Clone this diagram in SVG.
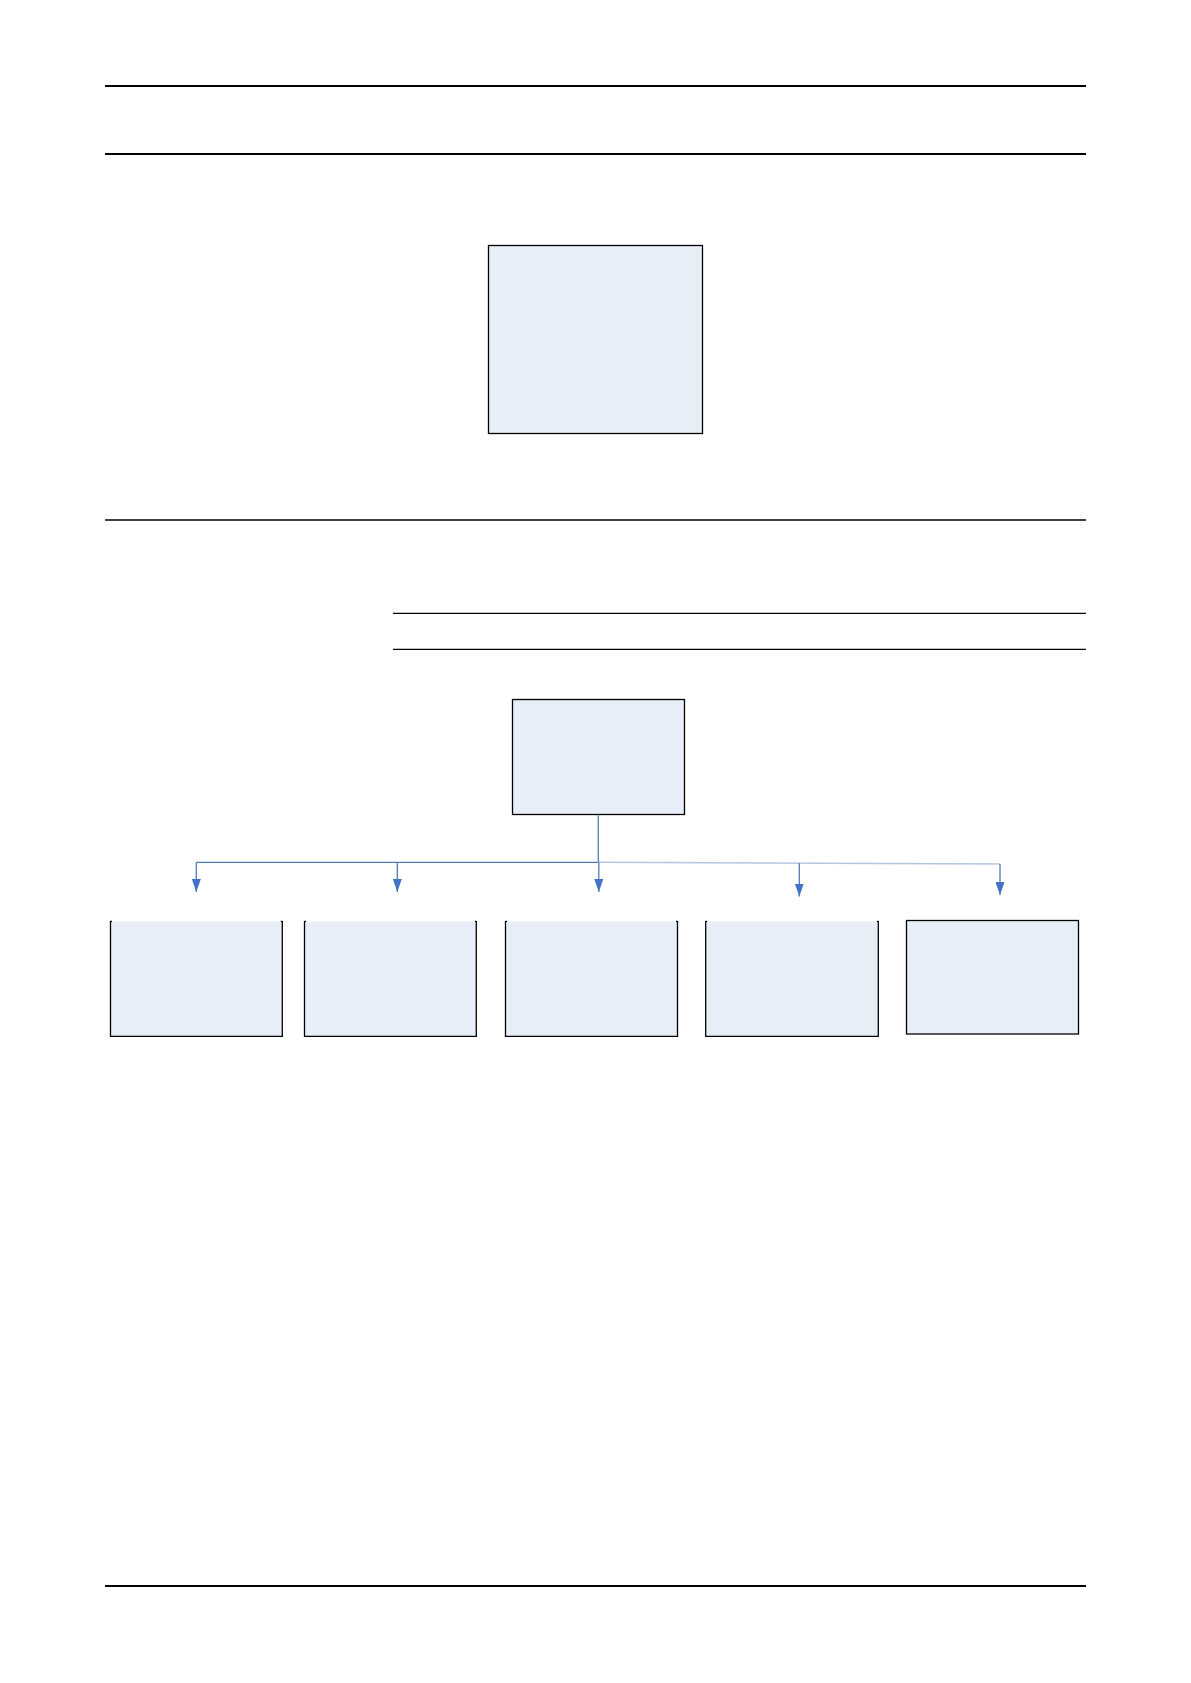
<svg xmlns="http://www.w3.org/2000/svg" width="1191" height="1683" viewBox="0 0 1191 1683">
<style>
.rule{stroke:#000;fill:none}
.box{fill:#E8EEF7;stroke:#000;stroke-width:1.3}
.boxfill{fill:#E8EEF7;stroke:none}
.edge{stroke:#000;stroke-width:1.3;fill:none}
.conn{stroke:#4F7DBA;stroke-width:1.3;fill:none}
.faded{stroke:#B4C6E2;stroke-width:1.5;fill:none}
</style>
<defs>
<marker id="arr" markerWidth="13" markerHeight="9" refX="13" refY="4.5" orient="auto" markerUnits="userSpaceOnUse" viewBox="0 0 13 9">
<path d="M0,0 L13,4.5 L0,9 Z" fill="#4472C4"/>
</marker>
</defs>
<rect width="1191" height="1683" fill="#fff"/>
<g id="rules">
<line class="rule" x1="105" y1="86" x2="1086" y2="86" stroke-width="2.2"/>
<line class="rule" x1="105" y1="154" x2="1086" y2="154" stroke-width="2.2"/>
<line class="rule" x1="105" y1="520" x2="1086" y2="520" stroke-width="1.3"/>
<line class="rule" x1="393" y1="613.3" x2="1086" y2="613.3" stroke-width="1.3"/>
<line class="rule" x1="393" y1="649.3" x2="1086" y2="649.3" stroke-width="1.3"/>
<line class="rule" x1="105" y1="1586" x2="1086" y2="1586" stroke-width="2.2"/>
</g>
<g id="node-top-box"><rect class="box" x="488.5" y="245.5" width="214" height="188"/></g>
<g id="node-root"><rect class="box" x="512.5" y="699.5" width="172" height="115"/></g>
<g id="connectors">
<line class="conn" x1="598.3" y1="814.5" x2="598.3" y2="862.3"/>
<line class="conn" x1="196.3" y1="862.3" x2="598.3" y2="862.3"/>
<line class="faded" x1="598.3" y1="862.3" x2="1000" y2="864"/>
<line class="conn" x1="196.3" y1="862.3" x2="196.3" y2="892" marker-end="url(#arr)"/>
<line class="conn" x1="397.3" y1="862.3" x2="397.3" y2="892" marker-end="url(#arr)"/>
<line class="conn" x1="598.8" y1="862.3" x2="598.8" y2="892" marker-end="url(#arr)"/>
<line class="conn" x1="799.3" y1="863.2" x2="799.3" y2="896.5" marker-end="url(#arr)"/>
<line class="conn" x1="1000" y1="864" x2="1000" y2="895" marker-end="url(#arr)"/>
</g>
<g id="node-child-1">
<rect class="boxfill" x="110.5" y="921.5" width="172" height="115"/>
<path class="edge" d="M110.5,921 V1036.3 H282.3 V921 M110.5,921.3 h1.5 M282.3,921.3 h-1.5"/>
</g>
<g id="node-child-2">
<rect class="boxfill" x="304.5" y="921.5" width="172" height="115"/>
<path class="edge" d="M304.5,921 V1036.3 H476.3 V921 M304.5,921.3 h1.5 M476.3,921.3 h-1.5"/>
</g>
<g id="node-child-3">
<rect class="boxfill" x="505.5" y="921.5" width="172" height="115"/>
<path class="edge" d="M505.5,921 V1036.3 H677.5 V921 M505.5,921.3 h1.5 M677.5,921.3 h-1.5"/>
</g>
<g id="node-child-4">
<rect class="boxfill" x="705.7" y="921.5" width="172.6" height="115"/>
<path class="edge" d="M705.7,921 V1036.3 H878.3 V921 M705.7,921.3 h1.5 M878.3,921.3 h-1.5"/>
</g>
<g id="node-child-5"><rect class="box" x="906.5" y="920.5" width="172" height="113.5"/></g>
</svg>
